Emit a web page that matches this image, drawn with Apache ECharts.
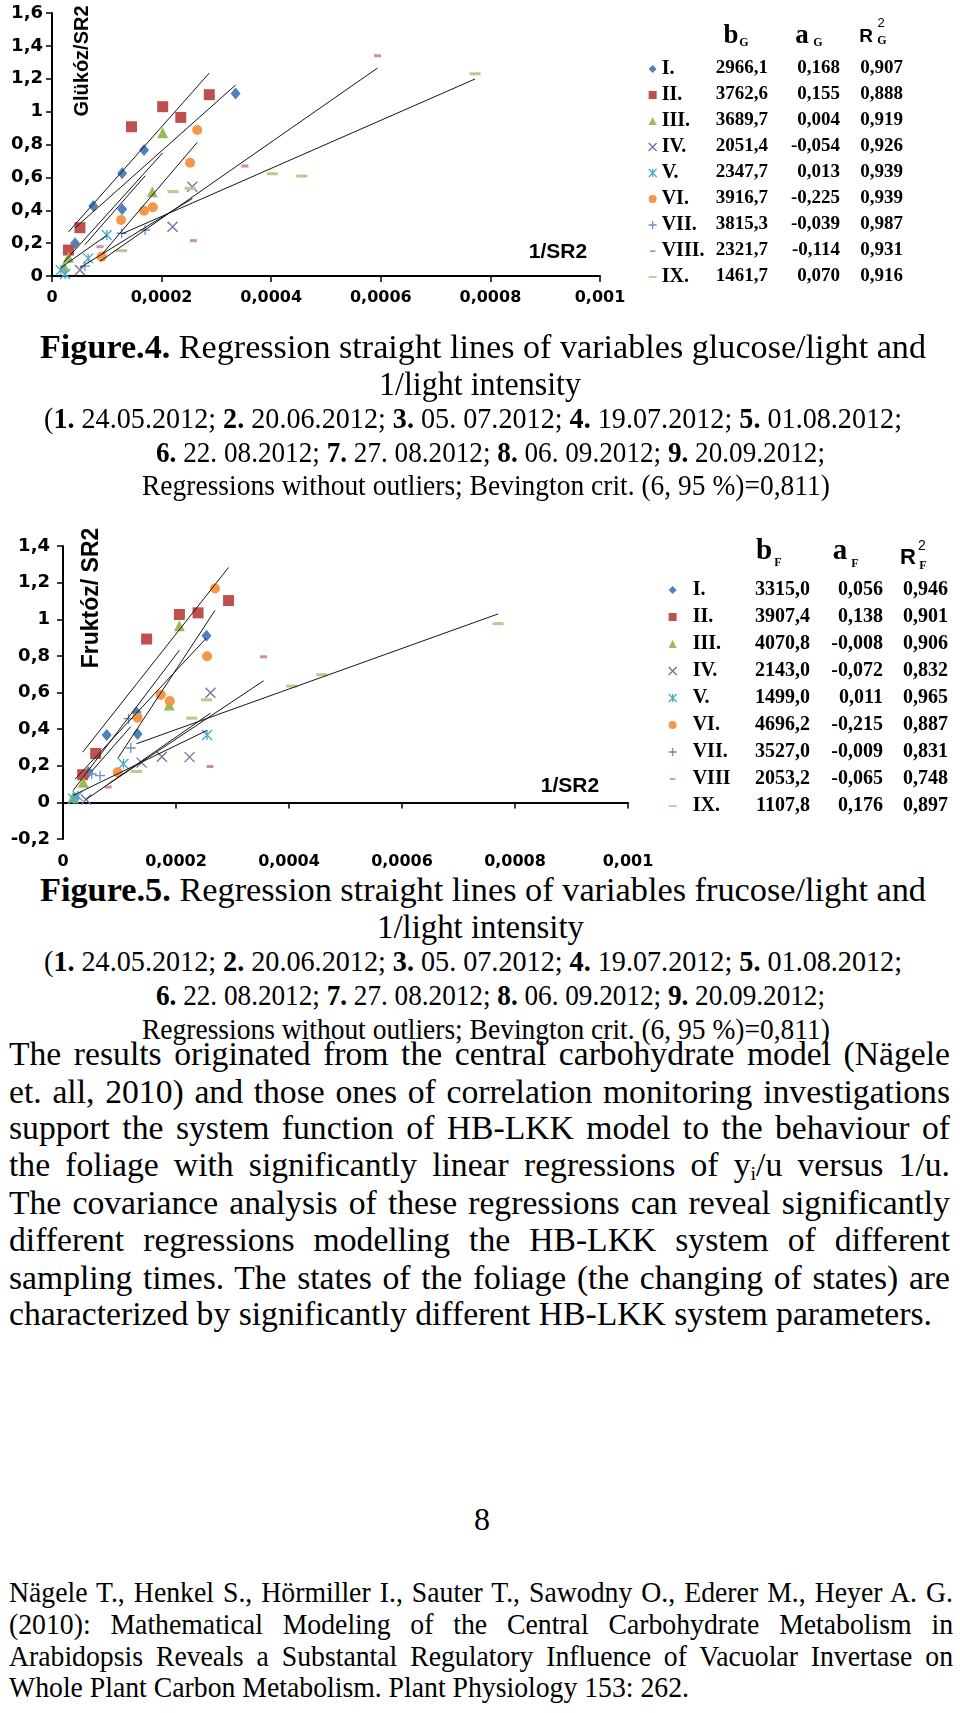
<!DOCTYPE html>
<html><head><meta charset="utf-8">
<script src="https://cdn.jsdelivr.net/npm/echarts@6/dist/echarts.min.js"></script>
<style>
html,body{margin:0;padding:0;background:#fff;}
#page{position:relative;width:960px;height:1713px;overflow:hidden;background:#fff;}
#chart{position:absolute;left:0;top:0;width:960px;height:870px;}
.ln{position:absolute;white-space:nowrap;font-family:'Liberation Serif','Times New Roman',serif;color:#000;transform-origin:0 50%;}
.ln sub{font-size:0.6em;vertical-align:-0.2em;line-height:0;}
</style></head>
<body><div id="page"><div id="chart"></div></div>
<script>
// ---------- DATA ----------
const namesG = ['I.','II.','III.','IV.','V.','VI.','VII.','VIII.','IX.'];
const namesF = ['I.','II.','III.','IV.','V.','VI.','VII.','VIII','IX.'];

// Glucose / SR2 vs 1/SR2 (Figure 4)
const gluI    = [[0.000042,0.199],[0.0000754,0.426],[0.000128,0.625],[0.000168,0.766],[0.000128,0.406],[0.000335,1.111]];
const gluII   = [[0.00003,0.158],[0.000051,0.294],[0.000145,0.908],[0.000202,1.03],[0.000235,0.965],[0.000287,1.103]];
const gluIII  = [[0.000022,0.06],[0.00003,0.114],[0.000183,0.513],[0.000202,0.872]];
const gluIV   = [[0.000051,0.036],[0.00022,0.3],[0.000256,0.543]];
const gluV    = [[0.000016,0.035],[0.000024,0.012],[0.000066,0.107],[0.0001,0.249]];
const gluVI   = [[0.0000906,0.118],[0.000126,0.341],[0.000168,0.397],[0.000184,0.418],[0.000252,0.689],[0.000265,0.888]];
const gluVII  = [[0.00006,0.06],[0.000127,0.26],[0.00017,0.28]];
const gluVIII = [[0.0000876,0.178],[0.000258,0.215],[0.000352,0.669],[0.000594,1.34]];
const gluIX   = [[0.000127,0.154],[0.000221,0.513],[0.000252,0.533],[0.000402,0.622],[0.000456,0.608],[0.000772,1.23]];

// Fructose / SR2 vs 1/SR2 (Figure 5)
const fruI    = [[0.0000212,0.021],[0.0000448,0.164],[0.0000773,0.368],[0.00013,0.492],[0.000132,0.373],[0.000254,0.91]];
const fruII   = [[0.0000348,0.151],[0.0000578,0.267],[0.000148,0.892],[0.000206,1.026],[0.000239,1.035],[0.000293,1.102]];
const fruIII  = [[0.000018,0.03],[0.000036,0.11],[0.000188,0.532],[0.000206,0.964]];
const fruIV   = [[0.0000407,0.016],[0.000139,0.217],[0.000175,0.249],[0.000224,0.247],[0.000261,0.599]];
const fruV    = [[0.000018,0.02],[0.000026,0.035],[0.000107,0.211],[0.000255,0.368]];
const fruVI   = [[0.0000968,0.164],[0.000132,0.462],[0.000173,0.587],[0.000189,0.553],[0.000255,0.798],[0.000269,1.168]];
const fruVII  = [[0.0000508,0.155],[0.0000655,0.146],[0.00012,0.297],[0.000116,0.457]];
const fruVIII = [[0.00008,0.084],[0.00026,0.196],[0.000355,0.795]];
const fruIX   = [[0.00013,0.169],[0.000228,0.46],[0.000254,0.56],[0.000405,0.635],[0.000458,0.697],[0.00077,0.976]];

// regression parameters (legend tables)
const bG  = [2966.1,3762.6,3689.7,2051.4,2347.7,3916.7,3815.3,2321.7,1461.7];
const aG  = [0.168,0.155,0.004,-0.054,0.013,-0.225,-0.039,-0.114,0.070];
const r2G = [0.907,0.888,0.919,0.926,0.939,0.939,0.987,0.931,0.916];
const bF  = [3315.0,3907.4,4070.8,2143.0,1499.0,4696.2,3527.0,2053.2,1107.8];
const aF  = [0.056,0.138,-0.008,-0.072,0.011,-0.215,-0.009,-0.065,0.176];
const r2F = [0.946,0.901,0.906,0.832,0.965,0.887,0.831,0.748,0.897];

// axis ranges
const yRangeG = [0, 1.6, 0.2];
const yRangeF = [-0.2, 1.4, 0.2];
const xRange  = [0, 0.001, 0.0002];

// text
const cap4 = [
 '<b>Figure.4.</b> Regression straight lines of variables glucose/light and',
 '1/light intensity',
 '(<b>1.</b> 24.05.2012; <b>2.</b> 20.06.2012; <b>3.</b> 05. 07.2012; <b>4.</b> 19.07.2012; <b>5.</b> 01.08.2012;',
 '<b>6.</b> 22. 08.2012; <b>7.</b> 27. 08.2012; <b>8.</b> 06. 09.2012; <b>9.</b> 20.09.2012;',
 'Regressions without outliers; Bevington crit. (6, 95 %)=0,811)'
];
const cap5 = [
 '<b>Figure.5.</b> Regression straight lines of variables frucose/light and',
 '1/light intensity',
 '(<b>1.</b> 24.05.2012; <b>2.</b> 20.06.2012; <b>3.</b> 05. 07.2012; <b>4.</b> 19.07.2012; <b>5.</b> 01.08.2012;',
 '<b>6.</b> 22. 08.2012; <b>7.</b> 27. 08.2012; <b>8.</b> 06. 09.2012; <b>9.</b> 20.09.2012;',
 'Regressions without outliers; Bevington crit. (6, 95 %)=0,811)'
];
const para = [
 'The results originated from the central carbohydrate model (Nägele',
 'et. all, 2010) and those ones of correlation monitoring investigations',
 'support the system function of HB-LKK model to the behaviour of',
 'the foliage with significantly linear regressions of y<sub>i</sub>/u versus 1/u.',
 'The covariance analysis of these regressions can reveal significantly',
 'different regressions modelling the HB-LKK system of different',
 'sampling times. The states of the foliage (the changing of states) are',
 'characterized by significantly different HB-LKK system parameters.'
];
const refs = [
 'Nägele T., Henkel S., Hörmiller I., Sauter T., Sawodny O., Ederer M., Heyer A. G.',
 '(2010): Mathematical Modeling of the Central Carbohydrate Metabolism in',
 'Arabidopsis Reveals a Substantal Regulatory Influence of Vacuolar Invertase on',
 'Whole Plant Carbon Metabolism. Plant Physiology 153: 262.'
];
const pageNumber = '8';

// ---------- STYLE ----------
const markStyle = [
 {symbol:'diamond', size:[10,12], color:'#4F81BD'},
 {symbol:'rect', size:11, color:'#C0504D'},
 {symbol:'triangle', size:11, color:'#9BBB59'},
 {symbol:'path://M0,0L10,10M10,0L0,10', size:10, color:'#7b6b9c', stroke:true},
 {symbol:'path://M0,0L10,10M10,0L0,10M5,0L5,10', size:10, color:'#4BACC6', stroke:true},
 {symbol:'circle', size:10, color:'#F79646'},
 {symbol:'path://M5,0L5,10M0,5L10,5', size:10, color:'#6f8fbf', stroke:true},
 {symbol:'rect', size:[7,3], color:'#c8919b', icon:'path://M0,0M1.5,4h7v2.2h-7zM10,10'},
 {symbol:'rect', size:[11,3], color:'#b7cb8e', icon:'path://M0,0M0,4h10v2.2h-10zM10,10'}
];
const labelFont = 'DejaVu Sans';
const serif = 'Liberation Serif';

const gluData = [gluI,gluII,gluIII,gluIV,gluV,gluVI,gluVII,gluVIII,gluIX];
const fruData = [fruI,fruII,fruIII,fruIV,fruV,fruVI,fruVII,fruVIII,fruIX];

function fmtNum(v,d){return v.toFixed(d).replace('.',',');}
function yFmt(v){return String(Math.round(v*10)/10).replace('.',',');}
function xFmt(v){return v===0?'0':String(+v.toFixed(4)).replace('.',',');}

const series = [];
function addChart(datas, names, b, a, gi){
  datas.forEach((d,i)=>{
    const m = markStyle[i];
    series.push({type:'scatter', name:names[i], xAxisIndex:gi, yAxisIndex:gi, data:d,
      symbol:m.symbol, symbolSize:m.size, z:2,
      itemStyle:{color:m.color, borderColor:m.color, borderWidth:m.stroke?1.3:0, opacity:1}});
  });
  datas.forEach((d,i)=>{
    const xs = d.map(p=>p[0]);
    const x0 = Math.min(...xs), x1 = Math.max(...xs);
    series.push({type:'line', name:'fit'+gi+'_'+i, xAxisIndex:gi, yAxisIndex:gi,
      data:[[x0, a[i]+b[i]*x0],[x1, a[i]+b[i]*x1]], symbol:'none', silent:true, z:3,
      lineStyle:{color:'#151515', width:1}});
  });
}
addChart(gluData, namesG, bG, aG, 0);
addChart(fruData, namesF, bF, aF, 1);

function axisX(gi){
  return {type:'value', gridIndex:gi, min:xRange[0], max:xRange[1], interval:xRange[2],
    axisLine:{show:true, onZero:true, lineStyle:{color:'#000', width:2}},
    axisTick:{show:true, inside:false, length:6, lineStyle:{color:'#000', width:1.5}},
    splitLine:{show:false},
    axisLabel:{formatter:xFmt, color:'#000', fontFamily:labelFont, fontWeight:'bold', fontSize:16, margin: gi===0?14:15}};
}
function axisY(gi, r){
  return {type:'value', gridIndex:gi, min:r[0], max:r[1], interval:r[2],
    axisLine:{show:true, onZero:false, lineStyle:{color:'#000', width:2}},
    axisTick:{show:true, length:6, lineStyle:{color:'#000', width:1.5}},
    splitLine:{show:false},
    axisLabel:{formatter:yFmt, color:'#000', fontFamily:labelFont, fontWeight:'bold', fontSize:18, margin: gi===0?9:13}};
}

function legendData(names){
  return names.map((n,i)=>{
    const o = {name:n};
    if (markStyle[i].icon) o.icon = markStyle[i].icon;
    if (markStyle[i].stroke) o.itemStyle = {borderWidth:1.3};
    return o;
  });
}

const graphic = [];
function t(text, x, y, font, align, extra){
  const el = {type:'text', x:x, y:y, silent:true,
    style:{text:text, fill:'#000', font:font, align:align||'center', verticalAlign:'middle'}};
  if (extra) Object.assign(el, extra);
  graphic.push(el);
}
// axis names
t('Glükóz/SR2', 82, 61, 'bold 20px "Liberation Sans"', 'center', {rotation:Math.PI/2});
t('1/SR2', 558, 252, 'bold 21px "Liberation Sans"', 'center');
t('Fruktóz/ SR2', 92, 598, 'bold 23px "Liberation Sans"', 'center', {rotation:Math.PI/2});
t('1/SR2', 570, 786, 'bold 21px "Liberation Sans"', 'center');

// table headers
t('b', 731, 36, 'bold 27px "Liberation Serif"');
t('G', 744, 43, 'bold 12px "Liberation Serif"');
t('a', 802, 36, 'bold 27px "Liberation Serif"');
t('G', 818, 43, 'bold 12px "Liberation Serif"');
t('R', 866, 37, 'bold 19px "Liberation Sans"');
t('2', 881, 23, '13px "Liberation Sans"');
t('G', 882, 41, 'bold 12px "Liberation Serif"');

t('b', 764, 552, 'bold 29px "Liberation Serif"');
t('F', 778, 563, 'bold 12px "Liberation Serif"');
t('a', 840, 552, 'bold 29px "Liberation Serif"');
t('F', 855, 564, 'bold 12px "Liberation Serif"');
t('R', 908, 558, 'bold 22px "Liberation Sans"');
t('2', 922, 546, '14px "Liberation Sans"');
t('F', 923, 566, 'bold 12px "Liberation Serif"');

// table values
const rowsG = [68,94,120,146,172,198,224,250,276];
const rowsF = [590,617,644,671,698,725,752,779,806];
rowsG.forEach((y,i)=>{
  t(fmtNum(bG[i],1), 768, y, 'bold 19px "Liberation Serif"', 'right');
  t(fmtNum(aG[i],3), 840, y, 'bold 19px "Liberation Serif"', 'right');
  t(fmtNum(r2G[i],3), 903, y, 'bold 19px "Liberation Serif"', 'right');
});
rowsF.forEach((y,i)=>{
  t(fmtNum(bF[i],1), 810, y, 'bold 20px "Liberation Serif"', 'right');
  t(fmtNum(aF[i],3), 883, y, 'bold 20px "Liberation Serif"', 'right');
  t(fmtNum(r2F[i],3), 948, y, 'bold 20px "Liberation Serif"', 'right');
});

const option = {
  animation:false,
  backgroundColor:'#fff',
  grid:[
    {left:52, top:13, width:548, height:263, containLabel:false},
    {left:63, top:546, width:565, height:300, containLabel:false}
  ],
  xAxis:[axisX(0), axisX(1)],
  yAxis:[axisY(0, yRangeG), axisY(1, yRangeF)],
  legend:[
    {data:legendData(namesG), orient:'vertical', left:648, top:59, padding:0, itemWidth:8, itemHeight:8, itemGap:6,
     selectedMode:false, textStyle:{fontFamily:serif, fontWeight:'bold', fontSize:20, lineHeight:18, color:'#000'}},
    {data:legendData(namesF), orient:'vertical', left:668, top:580, padding:0, itemWidth:8, itemHeight:8, itemGap:7,
     selectedMode:false, textStyle:{fontFamily:serif, fontWeight:'bold', fontSize:20, lineHeight:18, color:'#000', padding:[0,0,0,11]}}
  ],
  graphic: graphic,
  series: series
};
const chart = echarts.init(document.getElementById('chart'), null, {renderer:'canvas'});
chart.setOption(option);

// ---------- HTML TEXT ----------
const page = document.getElementById('page');
function mk(html,size){const d=document.createElement('div');d.className='ln';d.style.fontSize=size+'px';d.style.lineHeight=Math.round(size*1.2)+'px';d.innerHTML=html;page.appendChild(d);return d;}
function place(d,left,cy,size){d.style.left=left+'px';d.style.top=(cy-Math.round(size*1.2)/2)+'px';}
function fitLine(html,left,cy,size,width){const d=mk(html,size);place(d,left,cy,size);const w=d.getBoundingClientRect().width;d.style.transform='scaleX('+(width/w)+')';}
function block(lines,left,cys,size,width,lastWidth){
  const ds=lines.map(h=>mk(h,size));
  const ws=ds.map(d=>d.getBoundingClientRect().width);
  const s0=lastWidth/ws[ws.length-1];
  ds.forEach((d,i)=>{
    place(d,left,cys[i],size);
    if(i<ds.length-1){const n=(d.textContent.match(/ /g)||[]).length;d.style.wordSpacing=((width/s0-ws[i])/n)+'px';}
    d.style.transform='scaleX('+s0+')';
  });
}
const capLayout4 = [[40,347,33,886],[379,384,33,202],[44,418,30,858],[156,452,30,669],[142,485,30,688]];
const capLayout5 = [[40,890,33,886],[377,927,33,207],[44,961,30,858],[156,995,30,669],[142,1029,30,688]];
cap4.forEach((h,i)=>{const L=capLayout4[i];fitLine(h,L[0],L[1],L[2],L[3]);});
cap5.forEach((h,i)=>{const L=capLayout5[i];fitLine(h,L[0],L[1],L[2],L[3]);});
block(para, 9, [1054,1092,1128,1165,1203,1240,1278,1314], 33, 941, 923);
(function(){const d=mk(pageNumber,32);const w=d.getBoundingClientRect().width;place(d,482-w/2,1519,32);})();
block(refs, 9, [1592,1624,1656,1687], 29, 944, 680);
</script></body></html>
